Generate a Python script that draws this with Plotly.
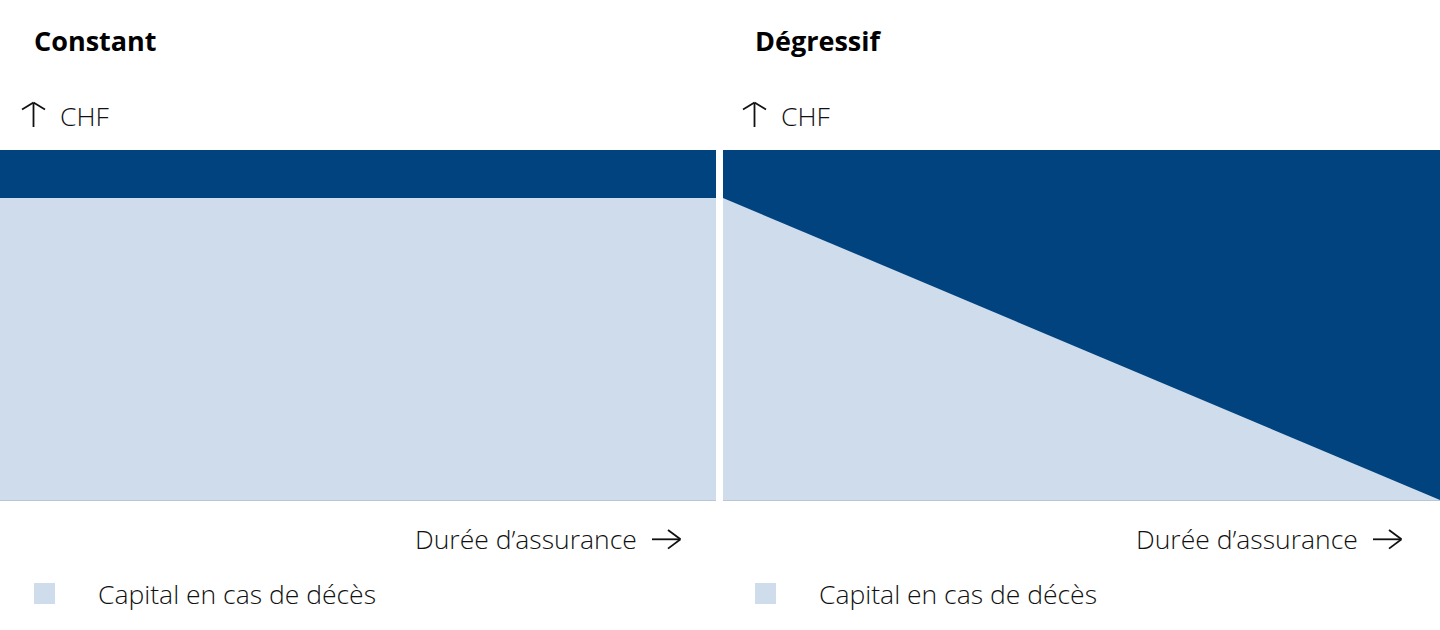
import plotly.graph_objects as go

# Data
duree = [0, 1]
panels = ["Constant", "Dégressif"]
total_constant = [1.0, 1.0]
capital_constant = [0.863, 0.863]
total_degressif = [1.0, 1.0]
capital_degressif = [0.863, 0.0]
y_label = "CHF"
x_label = "Durée d’assurance"
legend_label = "Capital en cas de décès"

DARK = "#00437f"
LIGHT = "#cfdcec"
FONT = "Open Sans"
TXT = "#111111"

fig = go.Figure()

series = [(total_constant, capital_constant, "x", "y"),
          (total_degressif, capital_degressif, "x2", "y2")]
for total, cap, xa, ya in series:
    fig.add_trace(go.Scatter(x=duree, y=total, xaxis=xa, yaxis=ya, mode="lines",
                             line=dict(width=0), fill="tozeroy", fillcolor=DARK,
                             showlegend=False, hoverinfo="skip"))
    fig.add_trace(go.Scatter(x=duree, y=cap, xaxis=xa, yaxis=ya, mode="lines",
                             line=dict(width=0), fill="tozeroy", fillcolor=LIGHT,
                             showlegend=False, hoverinfo="skip"))

W, H = 1440, 630
left_dom = [0, 716 / W]
right_dom = [723 / W, 1.0]
y_dom = [(H - 500) / H, (H - 150) / H]

axis_common = dict(showgrid=False, zeroline=False, showticklabels=False, ticks="",
                   fixedrange=True)
fig.update_layout(
    width=W, height=H,
    margin=dict(l=0, r=0, t=0, b=0),
    paper_bgcolor="white", plot_bgcolor="white",
    font=dict(family=FONT, color=TXT),
    xaxis=dict(domain=left_dom, range=[0, 1], showline=True, linecolor="#b9c6d8",
               linewidth=1, **axis_common),
    yaxis=dict(domain=y_dom, range=[0, 1], showline=False, **axis_common),
    xaxis2=dict(domain=right_dom, range=[0, 1], anchor="y2", showline=True,
                linecolor="#b9c6d8", linewidth=1, **axis_common),
    yaxis2=dict(domain=y_dom, range=[0, 1], anchor="x2", showline=False, **axis_common),
)


def px(x):
    return x / W


def py(y):
    return 1 - y / H


def seg(x0, y0, x1, y1):
    return dict(type="line", xref="paper", yref="paper",
                x0=px(x0), y0=py(y0), x1=px(x1), y1=py(y1),
                line=dict(color=TXT, width=1.8))


anns = []
shapes = []
offsets = [0, 721]
for title, off in zip(panels, offsets):
    anns.append(dict(text="<b>" + title + "</b>", x=px(off + 32), y=py(40),
                     xref="paper", yref="paper", xanchor="left", yanchor="middle",
                     showarrow=False, font=dict(size=27, family=FONT, color="#000000")))
    anns.append(dict(text=y_label, x=px(off + 58), y=py(116),
                     xref="paper", yref="paper", xanchor="left", yanchor="middle",
                     showarrow=False, font=dict(size=26.5, family=FONT, color=TXT, weight=300)))
    anns.append(dict(text=x_label, x=px(off + 639), y=py(539),
                     xref="paper", yref="paper", xanchor="right", yanchor="middle",
                     showarrow=False, font=dict(size=26.5, family=FONT, color=TXT, weight=300)))
    anns.append(dict(text=legend_label, x=px(off + 96), y=py(594),
                     xref="paper", yref="paper", xanchor="left", yanchor="middle",
                     showarrow=False, font=dict(size=26.5, family=FONT, color=TXT, weight=300)))
    shapes.append(dict(type="rect", xref="paper", yref="paper",
                       x0=px(off + 34), x1=px(off + 55), y0=py(604), y1=py(583),
                       fillcolor=LIGHT, line=dict(width=0)))
    # up arrow next to CHF
    shapes.append(seg(off + 33.5, 103, off + 33.5, 127))
    shapes.append(seg(off + 22, 109.5, off + 33.5, 102.5))
    shapes.append(seg(off + 45, 109.5, off + 33.5, 102.5))
    # right arrow after "Durée d'assurance"
    shapes.append(seg(off + 652, 539.3, off + 680, 539.3))
    shapes.append(seg(off + 668, 530, off + 680.5, 539.3))
    shapes.append(seg(off + 668, 548.6, off + 680.5, 539.3))

fig.update_layout(annotations=anns, shapes=shapes)
fig.write_html("out.html", config={"displayModeBar": False},
               post_script="document.body.style.margin='0';")
